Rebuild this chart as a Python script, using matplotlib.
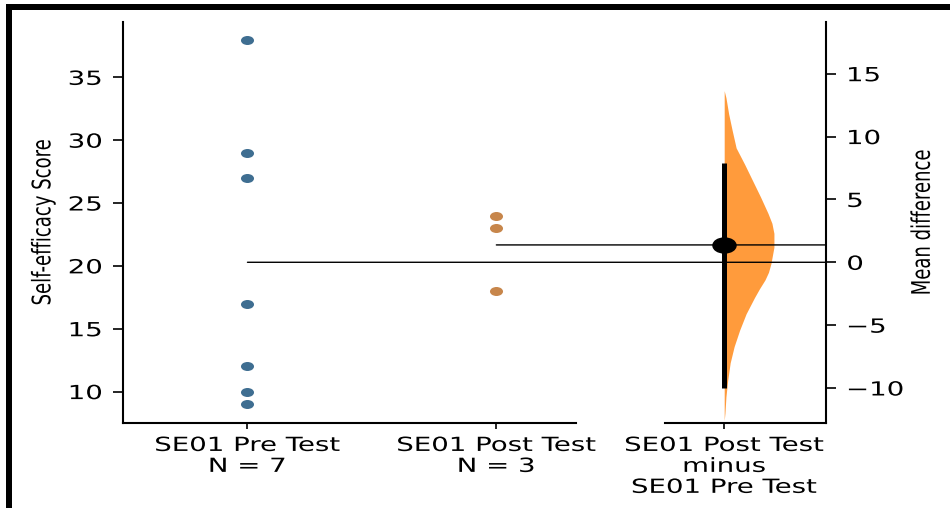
import numpy as np
import matplotlib
matplotlib.use("Agg")
import matplotlib.pyplot as plt
from matplotlib.path import Path
from matplotlib.patches import ConnectionPatch, Rectangle
from matplotlib.patheffects import AbstractPathEffect
from matplotlib.transforms import Affine2D, blended_transform_factory

# Datos
groups = ["SE01 Pre Test", "SE01 Post Test"]
pre_scores = [38, 29, 27, 17, 12, 10, 9]
post_scores = [24, 23, 18]
ci_low, ci_high = -10.0, 7.9
# forma de la distribucion bootstrap
boot_y = [13.65, 13.1, 11.8, 10.5, 9.1, 7.8, 6.5, 5.2, 3.9, 3.1, 2.3, 1.2, -0.1,
          -0.8, -1.4, -2.1, -2.8, -4.1, -5.4, -6.7, -8.0, -9.4, -10.7, -12.0, -12.6]
boot_density = [0.0, 0.035, 0.09, 0.16, 0.24, 0.41, 0.57, 0.73, 0.88, 0.96, 1.0, 1.0, 0.94,
                0.89, 0.82, 0.71, 0.61, 0.44, 0.31, 0.2, 0.12, 0.07, 0.035, 0.015, 0.0]

blue = "#3f6e91"
orange = "#c7864b"
violin_color = "#ff9b3c"
STRETCH = 1.42


class StretchX(AbstractPathEffect):
    # la imagen original esta estirada en horizontal
    def __init__(self, factor=STRETCH, anchor="center"):
        super().__init__()
        self.factor = factor
        self.anchor = anchor

    def draw_path(self, renderer, gc, tpath, affine, rgbFace=None):
        bb = tpath.get_extents(affine)
        if self.anchor == "left":
            x0 = bb.x0
        elif self.anchor == "right":
            x0 = bb.x1
        else:
            x0 = (bb.x0 + bb.x1) / 2
        st = Affine2D().translate(-x0, 0).scale(self.factor, 1).translate(x0, 0)
        renderer.draw_path(gc, tpath, affine + st, rgbFace)


circle = Path.unit_circle()
dot = Path(circle.vertices * [1.0, 0.69], circle.codes)
big_dot = Path(circle.vertices * [1.0, 0.65], circle.codes)

plt.rcParams["font.family"] = "DejaVu Sans"
plt.rcParams["font.size"] = 14

fig = plt.figure(figsize=(9.5, 5.08), dpi=100)
ax = fig.add_axes([0.1295, 0.1673, 0.4768, 0.7894])
ax2 = fig.add_axes([0.700, 0.1673, 0.1695, 0.7894])

ctrl_mean = np.mean(pre_scores)
test_mean = np.mean(post_scores)
mean_diff = test_mean - ctrl_mean

ax.plot(np.zeros(len(pre_scores)), pre_scores, ls="none", marker=dot,
        ms=9.4, color=blue, mec="none")
ax.plot(np.ones(len(post_scores)), post_scores, ls="none", marker=dot,
        ms=9.4, color=orange, mec="none")
ax.set_xlim(-0.5, 1.32)
ax.set_ylim(7.5, 39.4)
ax.set_yticks([10, 15, 20, 25, 30, 35])
ax.set_xticks([0, 1], [f"{groups[0]}\nN = {len(pre_scores)}",
                       f"{groups[1]}\nN = {len(post_scores)}"])
ax.set_ylabel("Self-efficacy Score", fontsize=13, ha="center", va="center")
ax.yaxis.set_label_coords(-0.176, 0.5)
ax.spines[["top", "right"]].set_visible(False)

# eje de la diferencia
ax2.fill_betweenx(boot_y, 0, np.array(boot_density) * 0.42, color=violin_color, lw=0)
ax2.plot([0, 0], [ci_low, ci_high], color="black", lw=3.6, solid_capstyle="butt")
ax2.plot([0], [mean_diff], ls="none", marker=big_dot, ms=16.6, color="black")
ax2.set_xlim(-0.5, 0.86)
ax2.set_ylim(np.array(ax.get_ylim()) - ctrl_mean)
ax2.set_yticks([-10, -5, 0, 5, 10, 15])
ax2.set_xticks([0], [f"{groups[1]}\nminus\n{groups[0]}"])
ax2.yaxis.tick_right()
ax2.yaxis.set_label_position("right")
ax2.set_ylabel("Mean difference", fontsize=13, ha="center", va="center")
ax2.yaxis.set_label_coords(1.596, 0.5)
ax2.spines[["top", "left"]].set_visible(False)

for a in (ax, ax2):
    for sp in a.spines.values():
        sp.set_linewidth(1.5)
    a.tick_params(axis="y", length=7.5, width=1.2, pad=7.5)
    a.tick_params(axis="x", length=4.3, width=1.2, pad=5.0)
    for lab in a.get_xticklabels():
        lab.set_linespacing(1.13)
        lab.set_path_effects([StretchX(anchor="center")])
    a.yaxis.label.set_path_effects([StretchX(anchor="center")])
for lab in ax.get_yticklabels():
    lab.set_path_effects([StretchX(anchor="right")])
for lab in ax2.get_yticklabels():
    lab.set_path_effects([StretchX(anchor="left")])

# lineas de referencia de las medias
right_edge = blended_transform_factory(ax2.transAxes, ax2.transData)
for x0, y0, y1 in [(0, ctrl_mean, 0), (1, test_mean, mean_diff)]:
    con = ConnectionPatch(xyA=(x0, y0), coordsA=ax.transData,
                          xyB=(1, y1), coordsB=right_edge,
                          color="black", lw=1.0, zorder=1)
    fig.add_artist(con)

# marco de la captura
fig.add_artist(Rectangle((6 / 950, 1 - 10 / 508), 944 / 950, 6 / 508,
                         transform=fig.transFigure, color="black", lw=0))
fig.add_artist(Rectangle((6 / 950, 0), 6 / 950, 1 - 4 / 508,
                         transform=fig.transFigure, color="black", lw=0))

fig.savefig("out.png", dpi=100)
